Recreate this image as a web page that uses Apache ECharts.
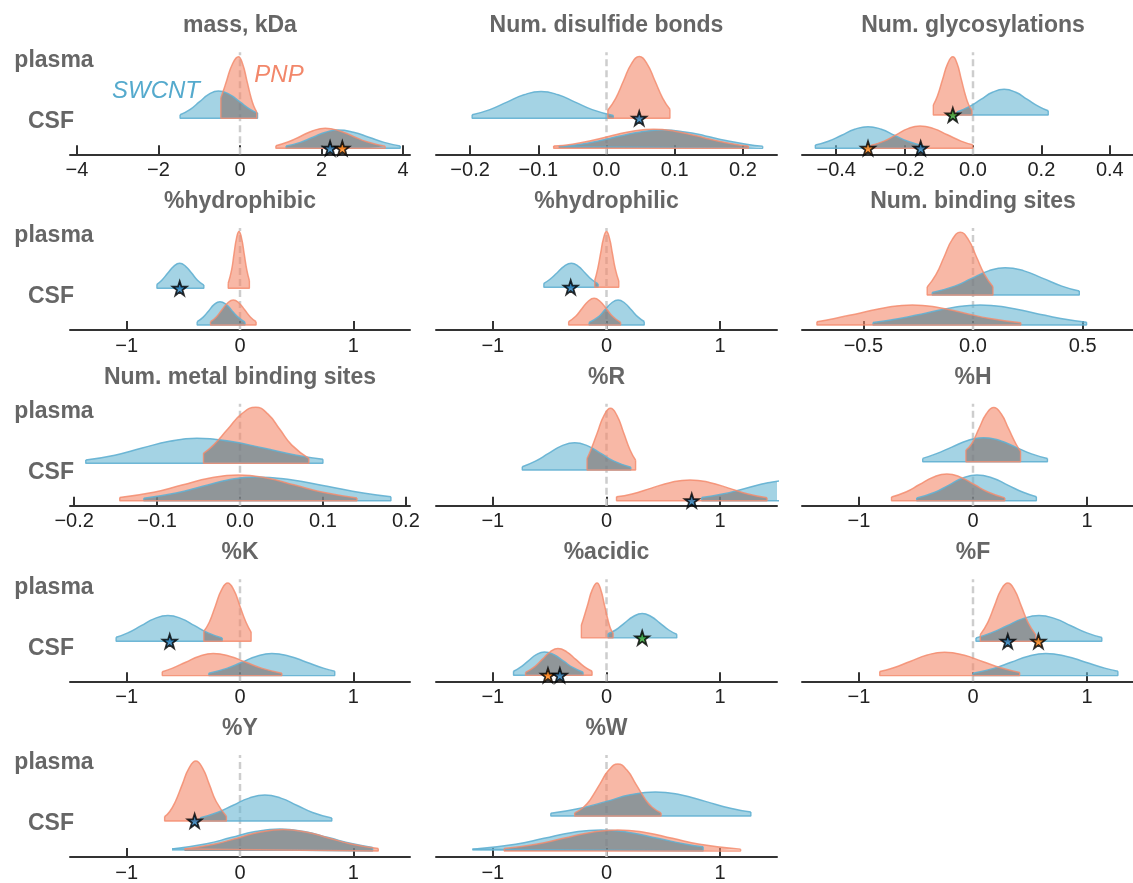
<!DOCTYPE html>
<html><head><meta charset="utf-8">
<script src="https://cdn.jsdelivr.net/npm/echarts@6/dist/echarts.min.js"></script>
<style>html,body{margin:0;padding:0;background:#fff}#c{width:1133px;height:883px}</style>
</head><body><div id="c"></div>
<script>
// ---------------- DATA ----------------
const titles = ['mass, kDa', 'Num. disulfide bonds', 'Num. glycosylations',
  '%hydrophibic', '%hydrophilic', 'Num. binding sites',
  'Num. metal binding sites', '%R', '%H',
  '%K', '%acidic', '%F',
  '%Y', '%W'];
const rowNames = ['plasma', 'CSF'];
const groupNames = ['SWCNT', 'PNP'];
const xLimits = [4.17, 0.25, 0.5, 1.5, 1.5, 0.78, 0.205, 1.5, 1.5, 1.5, 1.5, 1.5, 1.5, 1.5];
const tickValues = [
  [-4, -2, 0, 2, 4], [-0.2, -0.1, 0, 0.1, 0.2], [-0.4, -0.2, 0, 0.2, 0.4],
  [-1, 0, 1], [-1, 0, 1], [-0.5, 0, 0.5],
  [-0.2, -0.1, 0, 0.1, 0.2], [-1, 0, 1], [-1, 0, 1],
  [-1, 0, 1], [-1, 0, 1], [-1, 0, 1],
  [-1, 0, 1], [-1, 0, 1]];
const tickDecimals = [0, 1, 1, 0, 0, 1, 1, 0, 0, 0, 0, 0, 0, 0];

// density ridges: [x, height]
const plasmaSWCNT = [
  [[-1.47,3.5],[-1.22,8.9],[-0.99,16.6],[-0.76,24.1],[-0.53,27.3],[-0.27,24.1],[-0.01,16.6],[0.25,8.9],[0.43,5.3]],
  [[-0.197,3.5],[-0.171,8.7],[-0.146,16.2],[-0.121,23.5],[-0.096,26.7],[-0.071,23.5],[-0.046,16.2],[-0.021,8.7],[0.01,2.8]],
  [[-0.047,3],[-0.011,8.4],[0.023,15.6],[0.057,22.7],[0.091,25.7],[0.125,22.7],[0.159,15.6],[0.193,8.4],[0.22,4.2]],
  [[-0.733,4],[-0.69,8.1],[-0.637,15.2],[-0.585,22],[-0.532,25],[-0.48,22],[-0.427,15.2],[-0.375,8.1],[-0.319,3.2]],
  [[-0.551,4],[-0.5,7.8],[-0.434,14.6],[-0.371,21.2],[-0.309,24],[-0.25,21.2],[-0.19,14.6],[-0.13,7.8],[-0.074,3.4]],
  [[-0.186,2.5],[-0.083,8.9],[-0.006,16.6],[0.071,24.1],[0.147,27.3],[0.233,24.1],[0.319,16.6],[0.405,8.9],[0.485,3.9]],
  [[-0.186,3.3],[-0.151,8.1],[-0.118,15.2],[-0.085,22],[-0.052,25],[-0.012,22],[0.028,15.2],[0.068,8.1],[0.1,4.1]],
  [[-0.741,3.3],[-0.625,8.9],[-0.51,16.6],[-0.395,24.1],[-0.28,27.3],[-0.165,24.1],[-0.05,16.6],[0.065,8.9],[0.214,2.7]],
  [[-0.441,3.3],[-0.326,7.8],[-0.186,14.6],[-0.046,21.2],[0.094,24],[0.234,21.2],[0.374,14.6],[0.514,7.8],[0.653,3.2]],
  [[-1.093,4],[-0.99,8.4],[-0.872,15.6],[-0.754,22.7],[-0.636,25.7],[-0.518,22.7],[-0.4,15.6],[-0.282,8.4],[-0.157,3.3]],
  [[0.014,4.3],[0.08,7.9],[0.158,14.8],[0.236,21.4],[0.314,24.3],[0.392,21.4],[0.47,14.8],[0.548,7.9],[0.618,3.6]],
  [[0.026,3.3],[0.159,8.4],[0.299,15.6],[0.439,22.7],[0.579,25.7],[0.719,22.7],[0.859,15.6],[0.999,8.4],[1.13,3.7]],
  [[-0.35,3.3],[-0.2,8.5],[-0.06,15.8],[0.08,22.9],[0.22,26],[0.36,22.9],[0.5,15.8],[0.64,8.5],[0.81,2.9]],
  [[-0.49,2.7],[-0.23,7.8],[0.0,14.6],[0.21,21.2],[0.43,24],[0.65,21.2],[0.87,14.6],[1.09,7.8],[1.27,3.9]]
];
const plasmaPNP = [
  [[-0.47,20.6],[-0.4,28.5],[-0.33,37.4],[-0.185,54.3],[-0.04,61.6],[0.065,54.3],[0.17,37.4],[0.275,20],[0.34,12],[0.41,6.3]],
  [[0.002,8.3],[0.0135,20],[0.025,37.5],[0.0365,54.4],[0.048,61.7],[0.0595,54.4],[0.071,37.5],[0.0825,20],[0.093,9]],
  [[-0.116,10],[-0.104,19],[-0.089,35.4],[-0.074,51.4],[-0.059,58.3],[-0.0465,51.4],[-0.034,35.4],[-0.0215,19],[-0.012,9.8],[-0.003,4.8]],
  [[-0.104,5],[-0.074,18.4],[-0.053,34.4],[-0.031,50],[-0.009,56.7],[0.014,50],[0.037,34.4],[0.06,18.4],[0.083,7.7]],
  [[-0.103,7],[-0.078,18.1],[-0.052,33.8],[-0.026,49.1],[0,55.7],[0.026,49.1],[0.052,33.8],[0.078,18.1],[0.108,6.4]],
  [[-0.209,8],[-0.169,20.4],[-0.132,38],[-0.095,55.3],[-0.058,62.7],[-0.021,55.3],[0.016,38],[0.053,20.4],[0.091,8.3]],
  [[-0.044,10],[-0.032,18.2],[-0.015,34],[0.002,49.4],[0.019,56],[0.0335,49.4],[0.048,34],[0.0625,18.2],[0.083,5]],
  [[-0.171,11.5],[-0.138,20],[-0.08,37.5],[-0.0225,54.4],[0.035,61.7],[0.0925,54.4],[0.15,37.5],[0.2075,20],[0.256,9.8]],
  [[-0.062,11.7],[-0.013,17.7],[0.052,33],[0.117,47.9],[0.182,54.3],[0.247,47.9],[0.312,33],[0.377,17.7],[0.417,10.5]],
  [[-0.319,10],[-0.271,19],[-0.217,35.4],[-0.163,51.4],[-0.109,58.3],[-0.055,51.4],[-0.001,35.4],[0.053,19],[0.098,9.2]],
  [[-0.221,13],[-0.206,17.9],[-0.165,33.4],[-0.124,48.5],[-0.083,55],[-0.051,48.5],[-0.019,33.4],[0.013,17.9],[0.035,9.5],[0.058,4.9]],
  [[0.064,6.7],[0.13,19],[0.188,35.4],[0.246,51.4],[0.305,58.3],[0.364,51.4],[0.423,35.4],[0.482,19],[0.55,6.7]],
  [[-0.665,4.4],[-0.62,9.5],[-0.57,19.5],[-0.51,36.4],[-0.45,52.9],[-0.39,60],[-0.33,52.9],[-0.27,36.4],[-0.21,19.5],[-0.12,4.8]],
  [[-0.28,3.1],[-0.2,9],[-0.14,16.9],[-0.06,31.6],[0.02,45.9],[0.1,52],[0.18,45.9],[0.26,31.6],[0.34,16.9],[0.4,9],[0.48,3.1]]
];
const csfSWCNT = [
  [[1.13,2.2],[1.48,5.9],[1.79,11.1],[2.1,16.1],[2.41,18.3],[2.785,16.1],[3.16,11.1],[3.535,5.9],[3.93,2.3]],
  [[-0.07,1.7],[-0.04,3.9],[-0.01,7.6],[0.02,12.2],[0.05,16.4],[0.083,18.3],[0.115,16.4],[0.145,12.4],[0.175,7.7],[0.205,4],[0.229,2]],
  [[-0.461,3.2],[-0.423,7],[-0.384,13.1],[-0.346,19],[-0.307,21.6],[-0.268,19],[-0.23,13.1],[-0.191,7],[-0.144,2.3]],
  [[-0.378,3.3],[-0.327,7.6],[-0.277,14.1],[-0.227,20.6],[-0.177,23.3],[-0.123,20.6],[-0.069,14.1],[-0.015,7.6],[0.044,2.8]],
  [[-0.153,2.6],[-0.072,8.1],[-0.014,15.2],[0.044,22],[0.102,25],[0.16,22],[0.218,15.2],[0.276,8.1],[0.332,3.5]],
  [[-0.456,2.4],[-0.335,6.5],[-0.212,12.1],[-0.09,17.6],[0.033,20],[0.156,17.6],[0.278,12.1],[0.4,6.5],[0.518,2.8]],
  [[-0.116,2.5],[-0.077,7.7],[-0.045,14.4],[-0.0135,20.9],[0.018,23.7],[0.0615,20.9],[0.105,14.4],[0.1485,7.7],[0.182,4]],
  [[0.838,3.2],[1.02,6.6],[1.22,12.3],[1.42,17.9],[1.62,20.3],[1.82,17.9],[2.02,12.3]],
  [[-0.494,2.6],[-0.334,8.4],[-0.211,15.6],[-0.088,22.7],[0.035,25.7],[0.17,22.7],[0.305,15.6],[0.44,8.4],[0.556,4]],
  [[-0.275,2.4],[-0.117,7.2],[0.016,13.4],[0.149,19.4],[0.281,22],[0.435,19.4],[0.588,13.4],[0.742,7.2],[0.836,4.3]],
  [[-0.818,4],[-0.763,7.6],[-0.69,14.1],[-0.618,20.6],[-0.545,23.3],[-0.461,20.6],[-0.377,14.1],[-0.293,7.6],[-0.206,3.1]],
  [[0.0,2.4],[0.182,7.2],[0.334,13.4],[0.486,19.4],[0.638,22],[0.813,19.4],[0.988,13.4],[1.163,7.2],[1.271,4.3]],
  [[-0.6,2],[-0.295,7.2],[-0.08,13.4],[0.135,19.4],[0.35,22],[0.565,19.4],[0.78,13.4],[0.995,7.2],[1.17,3.6]],
  [[-1.18,1.7],[-0.8,6.8],[-0.55,12.7],[-0.3,18.5],[-0.05,21],[0.2,18.5],[0.45,12.7],[0.7,6.8],[0.85,4.2]]
];
const csfPNP = [
  [[0.88,2.6],[1.19,6.5],[1.49,12.1],[1.79,17.6],[2.09,20],[2.43,17.6],[2.77,12.1],[3.11,6.5],[3.56,2]],
  [[-0.0775,2.2],[-0.05,4.1],[-0.02,8],[0.01,13],[0.04,17.3],[0.069,19],[0.1,17.1],[0.13,12.7],[0.16,7.8],[0.19,3.9],[0.208,2.4]],
  [[-0.299,2.8],[-0.26,7.2],[-0.225,13.5],[-0.19,19.7],[-0.155,22.3],[-0.115,19.7],[-0.075,13.5],[-0.035,7.2],[-0.001,3.5]],
  [[-0.26,3.3],[-0.209,8.1],[-0.159,15.2],[-0.109,22],[-0.059,25],[-0.009,22],[0.041,15.2],[0.091,8.1],[0.142,3.3]],
  [[-0.333,3.4],[-0.271,8.7],[-0.217,16.2],[-0.163,23.5],[-0.109,26.7],[-0.055,23.5],[-0.001,16.2],[0.053,8.7],[0.124,2.6]],
  [[-0.712,3.3],[-0.631,6.5],[-0.513,12.1],[-0.395,17.6],[-0.277,20],[-0.159,17.6],[-0.041,12.1],[0.077,6.5],[0.218,2.2]],
  [[-0.145,3.3],[-0.104,8.4],[-0.07,15.6],[-0.036,22.7],[-0.002,25.7],[0.032,22.7],[0.066,15.6],[0.1,8.4],[0.141,2.8]],
  [[0.088,3.9],[0.225,6.7],[0.395,12.6],[0.565,18.3],[0.735,20.7],[0.905,18.3],[1.075,12.6],[1.245,6.7],[1.412,2.9]],
  [[-0.715,3.8],[-0.589,8.7],[-0.469,16.2],[-0.349,23.5],[-0.229,26.7],[-0.109,23.5],[0.011,16.2],[0.131,8.7],[0.279,2.8]],
  [[-0.686,3.9],[-0.6,7.2],[-0.479,13.4],[-0.358,19.4],[-0.236,22],[-0.092,19.4],[0.052,13.4],[0.196,7.2],[0.369,2.4]],
  [[-0.712,2.9],[-0.631,8.7],[-0.563,16.2],[-0.495,23.5],[-0.427,26.7],[-0.35,23.5],[-0.273,16.2],[-0.196,8.7],[-0.127,4]],
  [[-0.818,4],[-0.703,7.6],[-0.552,14.1],[-0.401,20.6],[-0.25,23.3],[-0.083,20.6],[0.083,14.1],[0.25,7.6],[0.409,3.2]],
  [[-0.49,2],[-0.22,7],[-0.02,13.1],[0.18,19],[0.38,21.5],[0.58,19],[0.78,13.1],[0.98,7],[1.22,2.4]],
  [[-0.9,2.4],[-0.62,6.8],[-0.38,12.7],[-0.14,18.5],[0.1,21],[0.34,18.5],[0.58,12.7],[0.82,6.8],[1.18,1.7]]
];
// star markers: [panel, row, x, group]
const stars = [
  [0,'CSF',2.21,'SWCNT'],[0,'CSF',2.51,'PNP'],
  [1,'plasma',0.048,'SWCNT'],
  [2,'plasma',-0.059,'both'],[2,'CSF',-0.307,'PNP'],[2,'CSF',-0.153,'SWCNT'],
  [3,'plasma',-0.532,'SWCNT'],
  [4,'plasma',-0.315,'SWCNT'],
  [7,'CSF',0.75,'SWCNT'],[7,'CSF',1.56,'PNP'],
  [9,'plasma',-0.62,'SWCNT'],
  [10,'plasma',0.314,'both'],[10,'CSF',-0.515,'PNP'],[10,'CSF',-0.41,'SWCNT'],
  [11,'plasma',0.305,'SWCNT'],[11,'plasma',0.574,'PNP'],
  [12,'plasma',-0.40,'SWCNT']
];

// ---------------- LAYOUT / STYLE ----------------
const FONT = '"Liberation Sans", Arial, Helvetica, sans-serif';
const GRID_H = 102;
const colLeft = [70, 436, 802], colWidth = [340, 341, 342];
const rowAxisY = [154.3, 330, 505.7, 681.3, 857];
const plasmaOffset = [36, 36, 39.3, 41.7, 42.7, 35, 42.4, 35.7, 44, 40, 43.4, 40, 36, 41];
const csfOffset = [6, 6, 6, 5, 5, 5, 5, 5, 5, 5.7, 6, 5.7, 6, 6];
// fills: PNP on layer 0, SWCNT on layer 1, overlap (grey) painted atop SWCNT on layer 1
const FILL = {SWCNT: 'rgba(103,182,210,0.6)', PNP: 'rgba(243,137,107,0.6)', overlap: 'rgb(74,126,144)'};
const LINE = {SWCNT: 'rgba(98,176,210,0.9)', PNP: 'rgba(243,140,110,0.85)'};
const STAR_COLOR = {SWCNT: '#1f77b4', PNP: '#ff7f0e', both: '#2ca02c'};
const STAR = 'path://M50,0 L61.8,35.3 L97.6,35.3 L68.8,57.1 L79.4,91.9 L50,70.5 L20.6,91.9 L31.2,57.1 L2.4,35.3 L38.2,35.3 Z';

function fmt(v, d) { return (v < 0 ? '\u2212' : '') + Math.abs(v).toFixed(d); }

const grids = [], xAxes = [], yAxes = [], series = [], graphics = [];

function addFill(points, i, yIdx, color, zlevel, z, blend) {
  series.push({
    type: 'line', xAxisIndex: i, yAxisIndex: yIdx, data: points, smooth: 0.5,
    symbol: 'none', showSymbol: false, clip: true, silent: true, zlevel: zlevel, z: z,
    blendMode: blend || null,
    lineStyle: {width: 0, opacity: 0},
    areaStyle: {color: color, opacity: 1}
  });
}
function addOutline(points, i, yIdx, group) {
  series.push({
    type: 'line', xAxisIndex: i, yAxisIndex: yIdx, data: points, smooth: 0.5,
    symbol: 'none', showSymbol: false, clip: true, silent: true, zlevel: 2, z: group === 'PNP' ? 6 : 5,
    lineStyle: {color: LINE[group], width: 1.5}
  });
  const a = points[0], b = points[points.length - 1];
  series.push({
    type: 'line', xAxisIndex: i, yAxisIndex: yIdx,
    data: [[a[0], a[1]], [a[0], 0], [b[0], 0], [b[0], b[1]]],
    symbol: 'none', showSymbol: false, clip: true, silent: true, zlevel: 2, z: group === 'PNP' ? 6 : 5,
    lineStyle: {color: LINE[group], width: 1.4}
  });
}

titles.forEach((t, i) => {
  const r = Math.floor(i / 3), c = i % 3;
  const axisY = rowAxisY[r];
  const top = axisY - GRID_H;
  grids.push({left: colLeft[c], top: top, width: colWidth[c], height: GRID_H,
    containLabel: false, outerBoundsMode: 'none', show: false});
  xAxes.push({
    gridIndex: i, type: 'value', min: -xLimits[i], max: xLimits[i],
    axisLine: {show: true, onZero: false, lineStyle: {color: '#333', width: 2}},
    axisTick: {show: true, inside: true, length: 9, customValues: tickValues[i], lineStyle: {color: '#333', width: 2}},
    axisLabel: {show: true, customValues: tickValues[i], formatter: v => fmt(v, tickDecimals[i]),
      fontSize: 20, color: '#222', margin: 6, fontFamily: FONT},
    splitLine: {show: false}
  });
  // yAxis 2i : CSF row, yAxis 2i+1 : plasma row (units = px above each baseline)
  yAxes.push({gridIndex: i, type: 'value', show: false, min: -csfOffset[i], max: GRID_H - csfOffset[i], splitLine: {show: false}});
  yAxes.push({gridIndex: i, type: 'value', show: false, min: -plasmaOffset[i], max: GRID_H - plasmaOffset[i], splitLine: {show: false}});

  // zero reference line
  series.push({
    type: 'line', xAxisIndex: i, yAxisIndex: 2 * i, zlevel: 0, z: 1, silent: true,
    data: [[0, -csfOffset[i]], [0, GRID_H - csfOffset[i]]], symbol: 'none', showSymbol: false,
    lineStyle: {color: '#cdcdcd', width: 2.5, type: [7, 4]}
  });

  const rows = [[csfSWCNT[i], csfPNP[i], 2 * i], [plasmaSWCNT[i], plasmaPNP[i], 2 * i + 1]];
  rows.forEach(([sw, pn, yIdx]) => {
    addFill(pn, i, yIdx, FILL.PNP, 0, 3);
    addFill(sw, i, yIdx, FILL.SWCNT, 1, 3);
    addFill(pn, i, yIdx, FILL.overlap, 1, 4, 'source-atop');
    addOutline(sw, i, yIdx, 'SWCNT');
    addOutline(pn, i, yIdx, 'PNP');
  });

  ['plasma', 'CSF'].forEach(row => {
    const pts = stars.filter(s => s[0] === i && s[1] === row)
      .map(s => ({value: [s[2], 0], itemStyle: {color: STAR_COLOR[s[3]]}}));
    if (pts.length) {
      series.push({
        type: 'scatter', xAxisIndex: i, yAxisIndex: row === 'plasma' ? 2 * i + 1 : 2 * i,
        data: pts, symbol: STAR, symbolSize: 14, zlevel: 2, z: 10, clip: true, silent: true,
        itemStyle: {borderColor: '#000', borderWidth: 1.8}
      });
    }
  });

  graphics.push({type: 'text', x: colLeft[c] + colWidth[c] / 2, y: axisY - 128.5, silent: true,
    style: {text: t, font: 'bold 23px ' + FONT, fill: '#666', align: 'center', verticalAlign: 'middle',
      textAlign: 'center', textVerticalAlign: 'middle'}});
  if (c === 0) {
    graphics.push({type: 'text', x: 54, y: axisY - 94, silent: true,
      style: {text: rowNames[0], font: 'bold 23px ' + FONT, fill: '#666', align: 'center', verticalAlign: 'middle',
        textAlign: 'center', textVerticalAlign: 'middle'}});
    graphics.push({type: 'text', x: 51, y: axisY - 33, silent: true,
      style: {text: rowNames[1], font: 'bold 23px ' + FONT, fill: '#666', align: 'center', verticalAlign: 'middle',
        textAlign: 'center', textVerticalAlign: 'middle'}});
  }
});

graphics.push({type: 'text', x: 156, y: 91.5, silent: true,
  style: {text: groupNames[0], font: 'italic 24px ' + FONT, fill: '#55aacd', align: 'center', verticalAlign: 'middle',
    textAlign: 'center', textVerticalAlign: 'middle'}});
graphics.push({type: 'text', x: 279, y: 75, silent: true,
  style: {text: groupNames[1], font: 'italic 24px ' + FONT, fill: '#f2876a', align: 'center', verticalAlign: 'middle',
    textAlign: 'center', textVerticalAlign: 'middle'}});

const chart = echarts.init(document.getElementById('c'), null, {renderer: 'canvas'});
chart.setOption({
  animation: false,
  backgroundColor: '#ffffff',
  tooltip: {show: false},
  grid: grids, xAxis: xAxes, yAxis: yAxes, series: series,
  graphic: {elements: graphics}
});
</script></body></html>
